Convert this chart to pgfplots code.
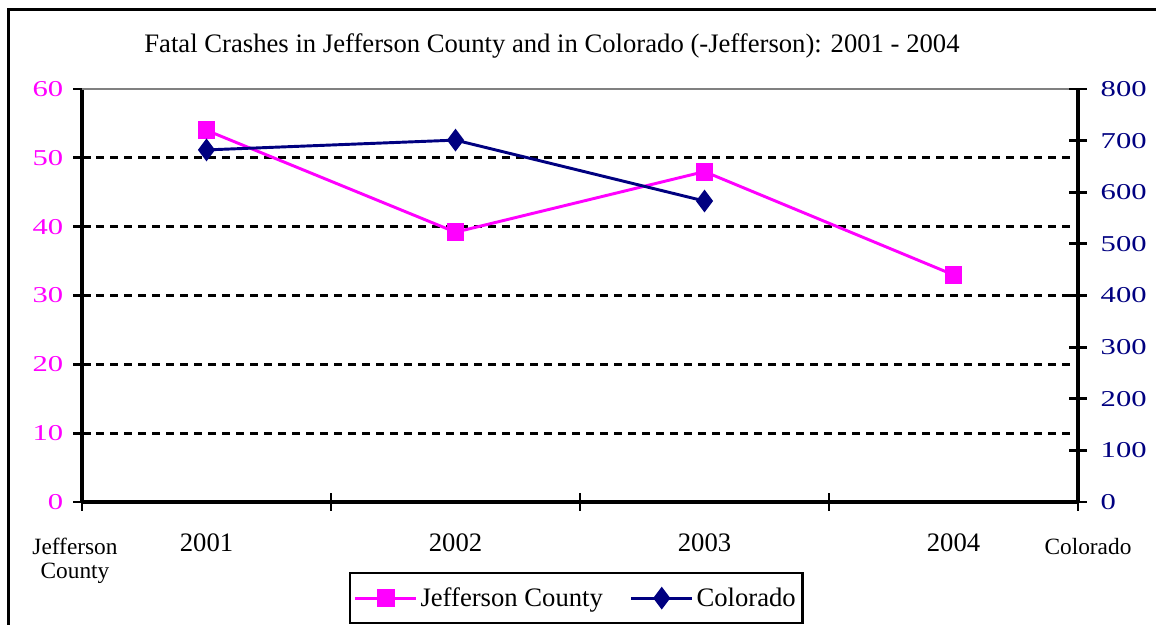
\documentclass[border=0pt]{standalone}
\usepackage{pgfplots}
\pgfplotsset{compat=1.18}
\usepackage{fontspec}
\setmainfont{Liberation Serif}
\newfontfamily\tickfont[FakeStretch=1.35]{Liberation Serif}
\definecolor{jeff}{RGB}{255,0,255}
\definecolor{colo}{RGB}{0,0,128}

\pgfplotsset{
  chartbase/.style={
    scale only axis, width=747pt, height=309.75pt,
    xmin=0.5, xmax=4.5, clip=false,
    axis line style={line width=2.4pt, -},
    every outer x axis line/.append style={line width=2.4pt},
    every outer y axis line/.append style={line width=2.4pt},
    every tick/.append style={black, line width=2.2pt},
    major tick style={black, line width=2.2pt},
    major tick length=13pt, tick align=center,
    /pgf/number format/assume math mode=true,
  }
}

\begin{document}
\begin{tikzpicture}
% pixel frame of the reference, origin at the axis' lower left corner
\begin{scope}[shift={(-61.5pt,376.5pt)}, x=0.75pt, y=-0.75pt]
  \useasboundingbox (0,0) rectangle (1156,619);
  \draw[line width=2.4pt] (8.5,660) -- (8.5,9.5) -- (1180,9.5);
\end{scope}

\begin{axis}[chartbase,
  ymin=0, ymax=60, ytick={0,10,...,60},
  axis x line*=bottom, axis y line*=left,
  xtick={0.5,1.5,2.5,3.5,4.5}, xticklabels={},
  extra x ticks={1,2,3,4}, extra x tick labels={2001,2002,2003,2004},
  extra x tick style={major tick length=0pt,
    xticklabel style={font=\fontsize{20}{24}\selectfont, yshift=-20pt}},
  yticklabel style={font=\tickfont\fontsize{17}{19}\selectfont, text=jeff, xshift=-4pt},
  ymajorgrids,
  grid style={black, line width=2.1pt, dash pattern=on 6pt off 4.5pt},
]
  \draw[gray, line width=1.6pt] (rel axis cs:0,1) -- (rel axis cs:1,1);
  \addplot[jeff, line width=2.2pt, mark=square*, mark size=5.6pt]
    coordinates {(1,54) (2,39.2) (3,48) (4,33)};
\end{axis}

\begin{axis}[chartbase,
  ymin=0, ymax=800, ytick={0,100,...,800},
  axis x line=none, axis y line*=right,
  yticklabel style={font=\tickfont\fontsize{17}{19}\selectfont, text=colo, xshift=7pt},
  legend columns=2,
  legend style={at={(0.496,-0.1695)}, anchor=north, draw=black, line width=1.6pt,
    font=\fontsize{20}{23}\selectfont, inner xsep=3pt, inner ysep=9pt,
    /tikz/every even column/.append style={column sep=18pt}},
  legend image code/.code={
    \draw[mark repeat=2, mark phase=2, #1]
      plot coordinates {(0pt,0pt) (23pt,0pt) (46pt,0pt)};},
]
  \addlegendimage{jeff, line width=2.2pt, mark=square*, mark size=5.6pt}
  \addlegendentry{Jefferson County}
  \addplot[colo, line width=2.2pt, mark=diamond*, mark size=6.75pt]
    coordinates {(1,682) (2,701) (3,583)};
  \addlegendentry{Colorado\hspace{20pt}}
\end{axis}

\begin{scope}[shift={(-61.5pt,376.5pt)}, x=0.75pt, y=-0.75pt]
  \node[font=\fontsize{20}{23}\selectfont] at (552,46)
    {Fatal Crashes in Jefferson County and in Colorado (-Jefferson): 2001 - 2004};
  \node[align=center, font=\fontsize{17.5}{18}\selectfont] at (75,561) {Jefferson\\County};
  \node[font=\fontsize{17.5}{21}\selectfont] at (1088,547) {Colorado};
\end{scope}
\end{tikzpicture}
\end{document}
